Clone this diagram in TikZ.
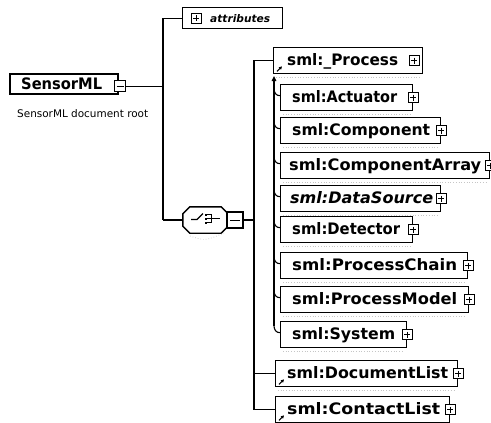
\documentclass[tikz,border=0pt]{standalone}
\usepackage{fontspec}
\newfontfamily\dvs{DejaVu Sans}
\usetikzlibrary{arrows.meta,calc}
\newcommand\mytextfit[2]{\resizebox{#1}{\height}{#2}}
\begin{document}
\begin{tikzpicture}[x=1pt,y=-1pt,
  conn/.style={line width=1.1pt},
  elbox/.style={draw, line width=1.4pt, fill=white, anchor=north west, minimum height=26pt, inner sep=0pt},
  eltext/.style={anchor=base west, inner sep=0pt, font=\dvs\bfseries\fontsize{15.8}{18}\selectfont},
  plusbox/.style={draw, fill=white, line width=0.8pt, minimum size=10pt, inner sep=0pt,
    path picture={\draw[line width=0.8pt] ([xshift=2pt]path picture bounding box.west) -- ([xshift=-2pt]path picture bounding box.east);
                  \draw[line width=0.8pt] ([yshift=-2pt]path picture bounding box.north) -- ([yshift=2pt]path picture bounding box.south);}},
  minusbox/.style={draw, fill=white, line width=0.9pt, minimum size=10pt, inner sep=0pt,
    path picture={\draw[line width=0.9pt] ([xshift=2pt]path picture bounding box.west) -- ([xshift=-2pt]path picture bounding box.east);}},
  refarrow/.style={line width=1pt, -{Triangle[length=3pt,width=3.2pt]}},
  shadowl/.style={gray!45, dotted, line width=0.7pt}
]
\useasboundingbox (0,0) rectangle (491,423);
\fill[white] (0,0) rectangle (491,423);

% root element
\node[draw, line width=1.5pt, fill=white, anchor=north west, minimum width=108pt, minimum height=20pt, inner sep=0pt] (sml) at (9,73) {};
\node[eltext] (smlt) at ([shift={(12pt,-6pt)}]sml.west) {\mytextfit{81pt}{SensorML}};
\node[minusbox, minimum size=11pt] (smlm) at ([shift={(1.5pt,-2.5pt)}]sml.east) {};
\node[anchor=base west, inner sep=0pt, font=\dvs\fontsize{10.5}{12}\selectfont] (smld) at (17,117) {\mytextfit{131pt}{SensorML document root}};

% attributes
\node[draw, line width=1.3pt, fill=white, anchor=north west, minimum width=100pt, minimum height=21pt, inner sep=0pt] (attr) at (182,7) {};
\node[plusbox] (attrp) at ([xshift=14pt]attr.west) {};
\node[anchor=base west, inner sep=0pt, font=\dvs\bfseries\itshape\fontsize{10.5}{12}\selectfont] (attrt) at ([shift={(28pt,-4.5pt)}]attr.west) {\mytextfit{60pt}{attributes}};

% choice compositor
\node[minimum width=45pt, minimum height=26pt, inner sep=0pt] (seq) at (205.5,220) {};
\draw[line width=1.4pt, fill=white]
  ([xshift=7pt]seq.north west) -- ([xshift=-7pt]seq.north east) -- ([yshift=-7pt]seq.north east)
  -- ([yshift=7pt]seq.south east) -- ([xshift=-7pt]seq.south east) -- ([xshift=7pt]seq.south west)
  -- ([yshift=7pt]seq.south west) -- ([yshift=-7pt]seq.north west) -- cycle;
\draw[gray!45, dotted, line width=0.7pt] (190,236) .. controls (205,241) .. (224,233);
\draw[line width=1.2pt] (191,219.5) -- (197,219.5) -- (203,213.5);
\fill (204.5,213.5) rectangle ++(2.6,2.6);
\fill (204.5,217.5) rectangle ++(2.6,2.6);
\fill (204.5,221.5) rectangle ++(2.6,2.6);
\draw[line width=1.1pt] (207,214.8) -- (211.5,214.8) -- (211.5,222.8) -- (207,222.8);
\draw[line width=1.1pt] (207,218.8) -- (220,218.8);
\node[draw, line width=1.2pt, fill=white, minimum width=16pt, minimum height=16pt, inner sep=0pt,
  path picture={\draw[line width=1pt] ([xshift=3pt]path picture bounding box.west) -- ([xshift=-3pt]path picture bounding box.east);}] (seqm) at (235,220) {};

% element boxes
\node[elbox, minimum width=149pt] (proc) at (273,47) {};
\node[eltext] (proct) at ([shift={(14pt,-4.5pt)}]proc.west) {\mytextfit{111pt}{sml:\_Process}};
\node[plusbox] (procp) at ([xshift=-9pt]proc.east) {};
\draw[refarrow] ([shift={(4pt,3pt)}]proc.south west) -- ++(5,-5);

\node[elbox, minimum width=132pt] (act) at (280,84) {};
\node[eltext] (actt) at ([shift={(12pt,-4.5pt)}]act.west) {\mytextfit{105pt}{sml:Actuator}};
\node[plusbox] (actp) at (act.east) {};

\node[elbox, minimum width=160pt] (comp) at (280,117) {};
\node[eltext] (compt) at ([shift={(12pt,-4.5pt)}]comp.west) {\mytextfit{138pt}{sml:Component}};
\node[plusbox] (compp) at (comp.east) {};

\node[elbox, minimum width=209pt] (carr) at (280,152) {};
\node[eltext] (carrt) at ([shift={(9pt,-4.5pt)}]carr.west) {\mytextfit{192pt}{sml:ComponentArray}};
\node[plusbox] (carrp) at (carr.east) {};

\node[elbox, minimum width=160pt] (dsrc) at (280,185) {};
\node[eltext, font=\dvs\bfseries\itshape\fontsize{15.8}{18}\selectfont] (dsrct) at ([shift={(10pt,-4.5pt)}]dsrc.west) {\mytextfit{143pt}{sml:DataSource}};
\node[plusbox] (dsrcp) at (dsrc.east) {};

\node[elbox, minimum width=132pt] (det) at (280,216) {};
\node[eltext] (dett) at ([shift={(12pt,-4.5pt)}]det.west) {\mytextfit{108pt}{sml:Detector}};
\node[plusbox] (detp) at (det.east) {};

\node[elbox, minimum width=187pt] (pchain) at (280,252) {};
\node[eltext] (pchaint) at ([shift={(12pt,-4.5pt)}]pchain.west) {\mytextfit{165pt}{sml:ProcessChain}};
\node[plusbox] (pchainp) at (pchain.east) {};

\node[elbox, minimum width=188pt] (pmodel) at (280,286) {};
\node[eltext] (pmodelt) at ([shift={(12pt,-4.5pt)}]pmodel.west) {\mytextfit{165pt}{sml:ProcessModel}};
\node[plusbox] (pmodelp) at (pmodel.east) {};

\node[elbox, minimum width=126pt] (sys) at (280,321) {};
\node[eltext] (syst) at ([shift={(12pt,-4.5pt)}]sys.west) {\mytextfit{103pt}{sml:System}};
\node[plusbox] (sysp) at (sys.east) {};

\node[elbox, minimum width=182pt] (doclist) at (275,360) {};
\node[eltext] (doclistt) at ([shift={(12pt,-4.5pt)}]doclist.west) {\mytextfit{161pt}{sml:DocumentList}};
\node[plusbox] (doclistp) at (doclist.east) {};
\draw[refarrow] ([shift={(4pt,3pt)}]doclist.south west) -- ++(5,-5);

\node[elbox, minimum width=174pt] (contact) at (275,396) {};
\node[eltext] (contactt) at ([shift={(12pt,-4.5pt)}]contact.west) {\mytextfit{153pt}{sml:ContactList}};
\node[plusbox] (contactp) at (contact.east) {};
\draw[refarrow] ([shift={(4pt,3pt)}]contact.south west) -- ++(5,-5);

% shadows
\foreach \b in {proc,act,comp,carr,dsrc,det,pchain,pmodel,sys,doclist,contact}
  \draw[shadowl] ([shift={(3pt,-3pt)}]\b.south west) -- ([shift={(-3pt,-3pt)}]\b.south east);

% connectors
\coordinate (lv) at (163,220);
\coordinate (bus) at (254,220);
\coordinate (stop) at (274,76);
\draw[conn] (attr.west) -| (lv);
\draw[conn] (smlm.east) -- (smlm.east -| lv);
\draw[conn] (seq.west) -- (lv);
\draw[conn] (seqm.east) -- (bus);
\draw[conn] (proc.west) -| (bus);
\draw[conn] (doclist.west) -| (bus);
\draw[conn] (contact.west) -| (bus);

% substitution group
\foreach \b in {act,comp,carr,dsrc,det,pchain,pmodel,sys}
  \draw[conn] ([yshift=2pt]\b.west) .. controls +(-4pt,0pt) and +(0pt,-4pt) .. ($(\b.west)+(-6pt,9pt)$);
\draw[conn, -{Triangle[length=5pt,width=4.5pt]}] ($(sys.west)+(-6pt,9pt)$) -- (stop);
\end{tikzpicture}
\end{document}
